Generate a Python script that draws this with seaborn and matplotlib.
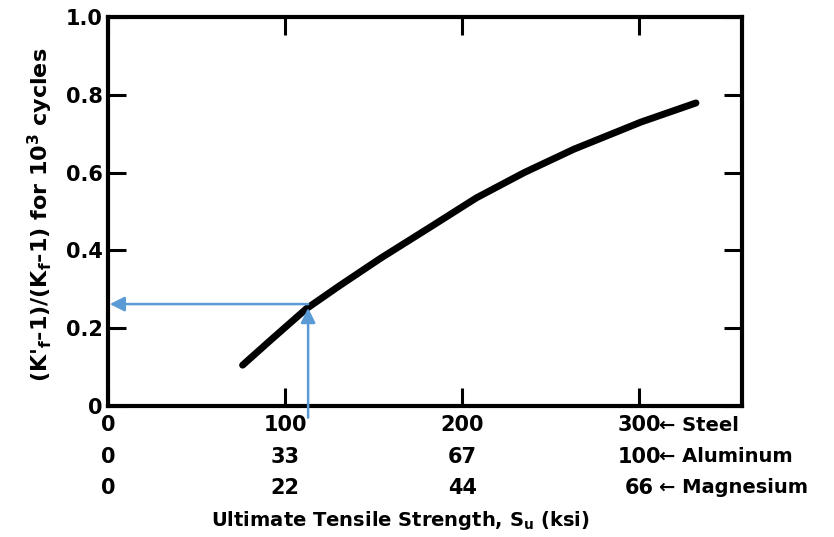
import matplotlib
matplotlib.use("Agg")
import matplotlib.pyplot as plt
import matplotlib.transforms as mtransforms
import seaborn as sns
import pandas as pd

# ---- data ----
strength_steel = [76, 92, 112, 131, 154, 182, 208, 235, 263, 301, 332]
ratio = [0.105, 0.17, 0.25, 0.31, 0.38, 0.46, 0.535, 0.60, 0.66, 0.73, 0.779]

steel_ticks = [0, 100, 200, 300]
aluminum_labels = ["0", "33", "67", "100"]
magnesium_labels = ["0", "22", "44", "66"]
materials = ["Steel", "Aluminum", "Magnesium"]
y_ticks = [0, 0.2, 0.4, 0.6, 0.8, 1.0]
y_tick_labels = ["0", "0.2", "0.4", "0.6", "0.8", "1.0"]

example_x = 113
example_y = 0.262

sns.set_theme(style="white")
plt.rcParams["font.family"] = ["DejaVu Sans"]
plt.rcParams["font.weight"] = "bold"
plt.rcParams["text.color"] = "black"
plt.rcParams["ytick.color"] = "black"
plt.rcParams["xtick.color"] = "black"

fig = plt.figure(figsize=(8.34, 5.37), dpi=100)
ax = fig.add_axes([108 / 834, 1 - 406 / 537, (742 - 108) / 834, (406 - 17) / 537])

df = pd.DataFrame({"x": strength_steel, "y": ratio})
sns.lineplot(data=df, x="x", y="y", ax=ax, color="black", linewidth=5,
             solid_capstyle="round", solid_joinstyle="round")

ax.set_xlim(0, 358)
ax.set_ylim(0, 1.0)

for s in ax.spines.values():
    s.set_linewidth(3)
    s.set_color("black")

ax.set_yticks(y_ticks)
ax.set_yticklabels(y_tick_labels, fontsize=15, fontweight="bold", color="black")
ax.tick_params(axis="y", which="both", direction="in", length=13, width=2.2,
               left=True, right=True, labelleft=True, pad=4, color="black")
ax.set_xticks(steel_ticks)
ax.set_xticklabels([])
ax.tick_params(axis="x", which="both", direction="in", length=13, width=2.2,
               bottom=True, top=True, labelbottom=False, color="black")
ax.set_xlabel("")
ax.set_ylabel("")

trans = mtransforms.blended_transform_factory(ax.transData, ax.transAxes)
rows = [[str(v) for v in steel_ticks], aluminum_labels, magnesium_labels]
row_y = [-0.05, -0.13, -0.21]
for labels, yy, mat in zip(rows, row_y, materials):
    for xv, lab in zip(steel_ticks, labels):
        ax.text(xv, yy, lab, transform=trans, ha="center", va="center",
                fontsize=15, fontweight="bold", color="black", clip_on=False)
    ax.text(steel_ticks[-1] + 11, yy, "\u2190 " + mat, transform=trans,
            ha="left", va="center", fontsize=14, fontweight="bold",
            color="black", clip_on=False)

fig.text(400 / 834, 1 - 520 / 537, r"Ultimate Tensile Strength, S$_{\mathbf{u}}$ (ksi)",
         ha="center", va="center", fontsize=14, fontweight="bold", color="black")
fig.text(40 / 834, 1 - 215 / 537,
         r"(K$'_{\mathbf{f}}$-1)/(K$_{\mathbf{f}}$-1) for 10$^{\mathbf{3}}$ cycles",
         rotation=90, ha="center", va="center", fontsize=16, fontweight="bold",
         color="black")

blue = "#5B9BD5"
ax.annotate("", xy=(example_x, example_y - 0.01), xytext=(example_x, -0.03),
            arrowprops=dict(arrowstyle="-|>", color=blue, lw=1.8, mutation_scale=22,
                            shrinkA=0, shrinkB=0), annotation_clip=False)
ax.annotate("", xy=(1, example_y), xytext=(example_x, example_y),
            arrowprops=dict(arrowstyle="-|>", color=blue, lw=1.8, mutation_scale=22,
                            shrinkA=0, shrinkB=0), annotation_clip=False)

fig.savefig("out.png", dpi=100)
